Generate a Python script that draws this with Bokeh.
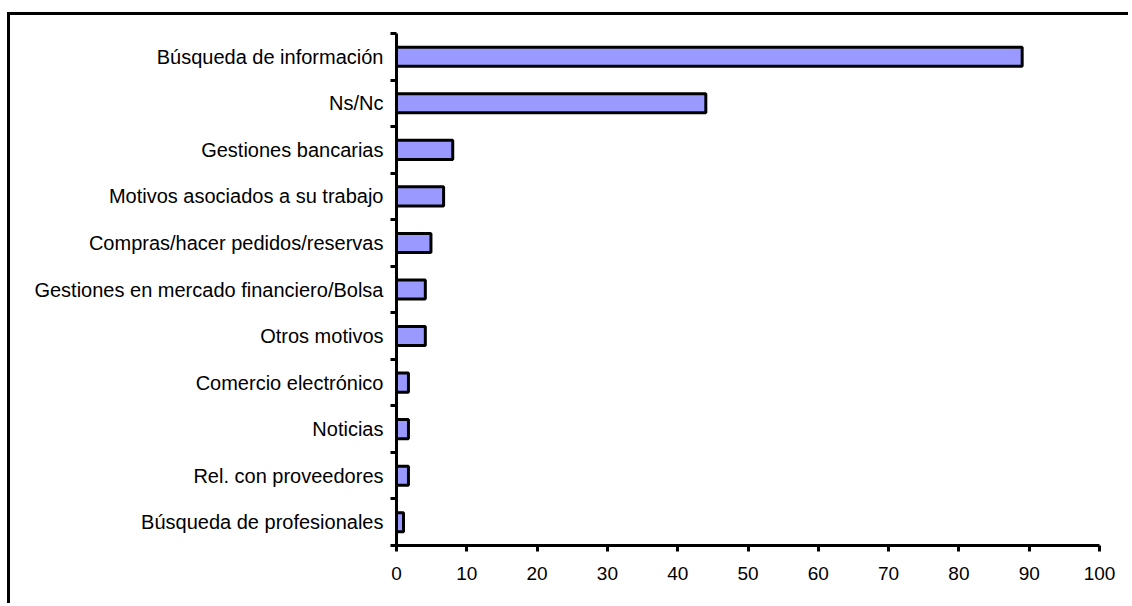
from bokeh.plotting import figure
from bokeh.models import Range1d, FixedTicker
from bokeh.embed import file_html
from bokeh.resources import INLINE

categories = [
    "Búsqueda de información",
    "Ns/Nc",
    "Gestiones bancarias",
    "Motivos asociados a su trabajo",
    "Compras/hacer pedidos/reservas",
    "Gestiones en mercado financiero/Bolsa",
    "Otros motivos",
    "Comercio electrónico",
    "Noticias",
    "Rel. con proveedores",
    "Búsqueda de profesionales",
]
values = [89, 44, 8, 6.7, 4.9, 4.1, 4.1, 1.7, 1.7, 1.7, 1.0]
x_ticks = [0, 10, 20, 30, 40, 50, 60, 70, 80, 90, 100]

n = len(categories)
centers = [n - 1 - i + 0.5 for i in range(n)]
bounds = list(range(n + 1))

FONT = "Liberation Sans"

p = figure(width=1121, height=591, output_backend="svg", toolbar_location=None,
           x_range=Range1d(0, 100), y_range=Range1d(0, n),
           min_border_left=386, min_border_right=32,
           min_border_top=18, min_border_bottom=61)
p.styles = {"border-left": "3px solid black", "border-top": "3px solid black",
            "margin-top": "12px", "margin-left": "7px"}
p.outline_line_color = None
p.xgrid.visible = False
p.ygrid.visible = False
p.background_fill_color = "white"
p.border_fill_color = "white"

p.hbar(y=centers, right=values, left=0, height=0.41,
       fill_color="#9999FF", line_color="black", line_width=3)

# x axis
p.xaxis.ticker = FixedTicker(ticks=x_ticks, minor_ticks=[])
p.xaxis.axis_line_width = 3
p.xaxis.major_tick_line_width = 3
p.xaxis.major_tick_out = 6
p.xaxis.major_tick_in = 0
p.xaxis.minor_tick_out = 0
p.xaxis.minor_tick_in = 0
p.xaxis.major_label_text_font = FONT
p.xaxis.major_label_text_font_size = "19px"
p.xaxis.major_label_text_color = "black"
p.xaxis.major_label_standoff = 15

# y axis
p.yaxis.ticker = FixedTicker(ticks=centers, minor_ticks=bounds)
p.yaxis.major_label_overrides = {c: name for c, name in zip(centers, categories)}
p.yaxis.axis_line_width = 3
p.yaxis.major_tick_out = 0
p.yaxis.major_tick_in = 0
p.yaxis.minor_tick_out = 6
p.yaxis.minor_tick_in = 0
p.yaxis.minor_tick_line_width = 3
p.yaxis.minor_tick_line_color = "black"
p.yaxis.major_label_text_font = FONT
p.yaxis.major_label_text_font_size = "20px"
p.yaxis.major_label_text_color = "black"
p.yaxis.major_label_standoff = 7

open("out.html", "w").write(file_html(p, INLINE))
